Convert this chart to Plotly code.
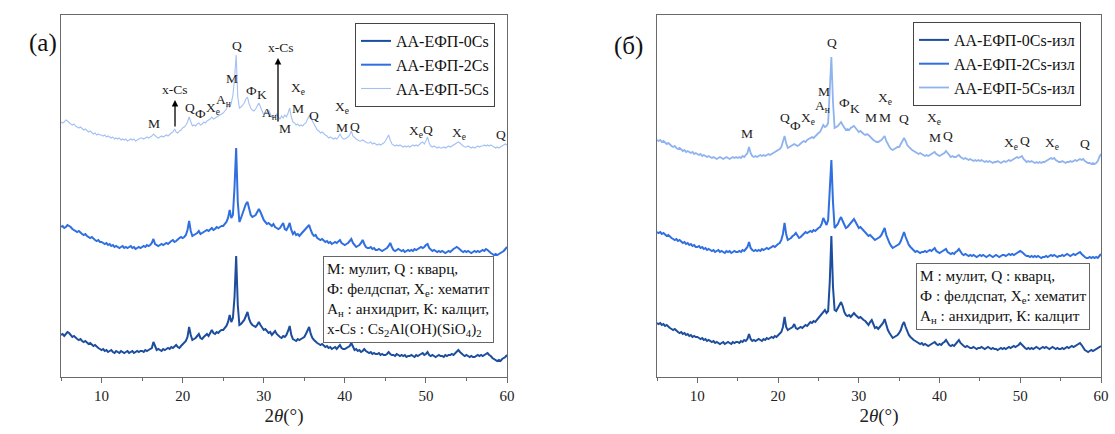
import numpy as np
import plotly.graph_objects as go

# 2θ grid shared by all patterns (degrees)
two_theta = np.round(np.arange(5.0, 60.0001, 0.2), 1)

# ---- panel (a): AA-EFP with Cs, intensity (a.u.) ----
a_0cs = [
    42, 43, 41, 43, 45, 44, 42, 40, 41, 39, 38, 37, 38, 36, 35, 36, 34, 33, 34, 32, 31, 32, 30, 29, 28,
    27, 28, 26, 27, 25, 26, 27, 25, 24, 26, 25, 24, 26, 25, 24, 25, 26, 24, 25, 26, 24, 25, 26, 25, 26,
    26, 25, 27, 26, 27, 28, 29, 35, 30, 27, 28, 27, 26, 28, 27, 28, 29, 28, 30, 29, 31, 32, 30, 29, 31,
    33, 34, 36, 40, 50, 42, 37, 38, 39, 41, 43, 39, 38, 40, 42, 43, 41, 44, 47, 44, 43, 45, 44, 46, 47,
    47, 49, 51, 55, 62, 55, 59, 80, 121, 72, 52, 53, 55, 57, 61, 65, 58, 54, 52, 51, 50, 52, 55, 52, 49,
    47, 48, 46, 44, 45, 42, 44, 46, 43, 41, 40, 39, 41, 40, 42, 46, 51, 42, 38, 37, 36, 38, 37, 38, 39,
    40, 43, 46, 50, 43, 39, 37, 35, 34, 33, 32, 33, 31, 30, 31, 29, 30, 28, 29, 30, 28, 30, 32, 29, 28,
    28, 29, 30, 31, 34, 30, 27, 28, 26, 27, 25, 26, 28, 26, 25, 24, 25, 23, 24, 23, 23, 24, 22, 23, 22,
    22, 23, 25, 23, 22, 22, 21, 23, 22, 21, 22, 21, 22, 20, 21, 21, 22, 21, 20, 22, 21, 22, 23, 24, 22,
    23, 25, 22, 21, 22, 21, 20, 21, 22, 21, 21, 20, 22, 21, 22, 22, 23, 22, 24, 26, 27, 25, 23, 22, 21,
    22, 21, 20, 21, 20, 20, 21, 22, 21, 22, 21, 22, 23, 24, 22, 21, 19, 18, 17, 16, 17, 16, 18, 19, 20,
    22,
]
a_2cs = [
    45, 46, 44, 45, 47, 46, 45, 43, 42, 41, 40, 41, 39, 38, 37, 38, 36, 35, 34, 35, 33, 32, 31, 32, 30,
    30, 29, 28, 29, 27, 28, 26, 27, 25, 26, 25, 24, 25, 26, 24, 25, 24, 25, 26, 24, 25, 23, 24, 25, 24,
    25, 26, 25, 27, 26, 27, 29, 33, 28, 27, 26, 27, 28, 27, 28, 29, 28, 30, 31, 32, 30, 31, 33, 34, 35,
    34, 35, 37, 42, 51, 41, 36, 37, 38, 39, 41, 38, 39, 40, 41, 42, 41, 43, 44, 42, 43, 45, 44, 45, 46,
    46, 48, 50, 54, 62, 54, 57, 85, 124, 70, 50, 54, 58, 63, 68, 70, 62, 57, 55, 56, 57, 60, 63, 60, 55,
    52, 50, 48, 49, 47, 46, 48, 45, 44, 43, 44, 46, 49, 43, 42, 45, 49, 42, 38, 40, 37, 38, 36, 38, 40,
    41, 43, 45, 47, 42, 38, 36, 37, 34, 33, 32, 33, 31, 30, 31, 29, 30, 28, 29, 30, 29, 31, 32, 29, 28,
    27, 28, 29, 31, 33, 29, 27, 25, 26, 27, 29, 32, 28, 25, 24, 24, 25, 23, 24, 22, 22, 23, 22, 21, 22,
    23, 24, 26, 29, 25, 22, 21, 22, 23, 22, 21, 22, 20, 21, 22, 21, 22, 21, 23, 22, 23, 24, 25, 24, 25,
    27, 28, 24, 22, 21, 22, 21, 20, 21, 20, 21, 20, 19, 20, 21, 20, 22, 23, 24, 25, 24, 22, 21, 20, 21,
    20, 21, 20, 19, 20, 21, 20, 21, 20, 21, 22, 21, 23, 22, 20, 19, 18, 17, 18, 17, 18, 19, 20, 21, 23,
    25,
]
a_5cs = [
    45, 44, 45, 47, 46, 44, 43, 42, 43, 41, 40, 39, 40, 38, 37, 38, 36, 35, 36, 34, 33, 34, 32, 33, 32,
    32, 31, 32, 30, 31, 30, 29, 30, 28, 29, 28, 29, 27, 28, 27, 28, 26, 27, 28, 27, 28, 26, 27, 28, 29,
    29, 28, 29, 30, 29, 30, 31, 33, 31, 30, 29, 30, 31, 30, 31, 32, 31, 33, 34, 35, 38, 35, 34, 36, 37,
    39, 40, 42, 45, 50, 45, 41, 42, 41, 43, 44, 42, 43, 45, 44, 46, 47, 48, 50, 48, 49, 50, 51, 52, 53,
    54, 56, 58, 62, 60, 64, 72, 88, 112, 70, 59, 60, 62, 64, 68, 70, 63, 59, 57, 56, 58, 61, 64, 60, 55,
    52, 55, 54, 57, 53, 50, 49, 51, 53, 50, 48, 51, 49, 52, 50, 54, 59, 50, 45, 44, 42, 43, 41, 42, 41,
    43, 44, 48, 51, 52, 46, 43, 40, 37, 36, 34, 35, 33, 32, 31, 29, 30, 29, 28, 29, 28, 30, 33, 30, 28,
    28, 29, 30, 32, 36, 31, 29, 28, 27, 26, 26, 27, 26, 25, 24, 24, 25, 23, 24, 23, 22, 23, 22, 23, 24,
    26, 29, 32, 27, 23, 22, 21, 22, 21, 22, 21, 20, 21, 20, 21, 20, 21, 22, 21, 22, 21, 23, 24, 25, 23,
    26, 30, 24, 21, 20, 21, 20, 19, 20, 19, 19, 20, 19, 20, 21, 20, 21, 22, 23, 24, 25, 24, 22, 21, 20,
    20, 21, 20, 19, 20, 19, 20, 21, 20, 21, 21, 22, 21, 22, 21, 22, 21, 20, 19, 20, 19, 20, 21, 22, 23,
    22,
]

# ---- panel (б): same samples after leaching, intensity (a.u.) ----
b_0cs = [
    54, 53, 54, 52, 53, 51, 52, 50, 49, 48, 47, 48, 46, 45, 44, 45, 43, 44, 42, 43, 41, 42, 40, 41, 40,
    40, 39, 38, 39, 37, 38, 36, 37, 36, 35, 36, 34, 35, 34, 33, 34, 35, 33, 34, 35, 34, 33, 35, 34, 35,
    35, 34, 36, 35, 37, 36, 38, 43, 38, 36, 37, 36, 37, 38, 37, 36, 38, 37, 39, 38, 39, 40, 39, 41, 40,
    42, 43, 45, 50, 60, 50, 47, 48, 49, 50, 53, 49, 48, 49, 50, 49, 51, 52, 51, 53, 55, 54, 56, 55, 57,
    59, 60, 62, 64, 67, 64, 66, 95, 141, 90, 67, 66, 69, 72, 75, 71, 65, 62, 61, 62, 60, 62, 64, 62, 60,
    59, 60, 58, 57, 56, 54, 52, 55, 57, 53, 49, 50, 48, 50, 52, 54, 58, 52, 47, 44, 41, 39, 40, 41, 42,
    44, 47, 52, 55, 50, 45, 42, 40, 38, 37, 36, 35, 34, 33, 34, 32, 33, 32, 31, 32, 33, 34, 35, 33, 32,
    33, 32, 34, 35, 37, 34, 32, 31, 32, 31, 33, 35, 37, 34, 32, 31, 30, 31, 30, 29, 29, 30, 29, 28, 29,
    29, 30, 29, 28, 29, 30, 29, 28, 29, 28, 28, 27, 28, 29, 28, 29, 28, 29, 30, 29, 30, 31, 30, 31, 32,
    34, 32, 30, 29, 28, 29, 28, 29, 28, 29, 30, 29, 28, 29, 30, 29, 30, 29, 28, 29, 30, 29, 28, 29, 28,
    28, 29, 28, 29, 30, 29, 30, 31, 30, 31, 32, 33, 34, 32, 29, 27, 26, 25, 26, 27, 26, 27, 28, 29, 30,
    31,
]
b_2cs = [
    50, 49, 50, 48, 49, 47, 46, 47, 45, 44, 43, 42, 43, 41, 42, 40, 39, 40, 38, 39, 37, 38, 36, 37, 35,
    35, 36, 34, 35, 33, 34, 32, 33, 32, 31, 32, 30, 31, 32, 30, 31, 30, 29, 31, 30, 31, 29, 30, 31, 30,
    30, 31, 30, 32, 31, 33, 35, 40, 34, 32, 31, 32, 31, 32, 31, 33, 32, 33, 34, 33, 34, 35, 36, 35, 37,
    38, 39, 42, 48, 59, 48, 42, 43, 44, 46, 47, 49, 46, 44, 45, 47, 48, 50, 49, 50, 51, 50, 52, 51, 53,
    54, 55, 58, 64, 60, 57, 62, 90, 122, 80, 54, 56, 58, 62, 65, 61, 57, 54, 55, 57, 59, 61, 63, 60, 57,
    54, 55, 53, 52, 50, 48, 46, 47, 45, 43, 42, 43, 44, 45, 47, 50, 54, 47, 42, 39, 36, 34, 35, 36, 37,
    38, 41, 46, 50, 45, 40, 37, 35, 33, 32, 30, 31, 30, 29, 30, 30, 31, 30, 31, 32, 31, 33, 34, 31, 30,
    29, 30, 31, 32, 33, 30, 29, 28, 29, 28, 30, 31, 33, 30, 28, 27, 28, 27, 26, 27, 26, 27, 26, 25, 26,
    27, 26, 27, 26, 25, 26, 27, 26, 25, 26, 27, 26, 25, 26, 27, 27, 26, 27, 28, 27, 28, 27, 28, 29, 30,
    31, 30, 28, 27, 26, 26, 25, 26, 25, 26, 25, 26, 25, 24, 25, 25, 26, 25, 26, 27, 26, 27, 26, 25, 26,
    26, 27, 26, 27, 28, 27, 26, 27, 28, 27, 28, 29, 30, 28, 26, 25, 24, 24, 25, 24, 25, 24, 25, 24, 26,
    28,
]
b_5cs = [
    47, 46, 47, 45, 46, 44, 43, 44, 42, 41, 40, 41, 39, 38, 39, 37, 36, 37, 35, 36, 35, 34, 35, 33, 34,
    33, 32, 33, 31, 32, 31, 30, 31, 30, 29, 30, 29, 28, 29, 30, 29, 28, 29, 30, 29, 28, 29, 30, 29, 30,
    29, 30, 29, 31, 30, 32, 34, 40, 34, 31, 30, 31, 30, 31, 32, 31, 32, 31, 32, 33, 32, 33, 34, 35, 36,
    37, 38, 40, 45, 51, 44, 39, 40, 41, 42, 43, 42, 41, 42, 44, 45, 46, 45, 47, 48, 49, 50, 49, 51, 52,
    54, 55, 58, 62, 60, 61, 64, 95, 130, 85, 59, 60, 61, 63, 65, 62, 59, 57, 58, 57, 59, 60, 61, 59, 57,
    55, 56, 54, 53, 52, 53, 52, 50, 48, 47, 46, 45, 45, 46, 47, 49, 51, 46, 42, 40, 38, 37, 38, 39, 40,
    40, 43, 46, 49, 46, 42, 40, 38, 37, 36, 35, 34, 33, 34, 33, 32, 31, 32, 31, 32, 33, 34, 35, 33, 32,
    31, 32, 33, 34, 36, 34, 31, 30, 31, 30, 30, 31, 32, 30, 29, 28, 29, 28, 27, 28, 27, 26, 27, 26, 27,
    26, 27, 26, 25, 26, 25, 26, 25, 24, 25, 25, 26, 25, 24, 25, 26, 25, 26, 27, 26, 27, 28, 29, 30, 29,
    30, 31, 28, 26, 25, 26, 25, 26, 25, 24, 25, 24, 25, 24, 25, 25, 26, 27, 28, 29, 28, 29, 27, 26, 25,
    25, 26, 25, 24, 25, 25, 26, 25, 26, 27, 26, 27, 28, 27, 28, 26, 25, 24, 24, 23, 24, 23, 24, 26, 30,
    33,
]

for s in (a_0cs, a_2cs, a_5cs, b_0cs, b_2cs, b_5cs):
    assert len(s) == len(two_theta)

names_a = ["АА-ЕФП-0Cs", "АА-ЕФП-2Cs", "АА-ЕФП-5Cs"]
names_b = ["АА-ЕФП-0Cs-изл", "АА-ЕФП-2Cs-изл", "АА-ЕФП-5Cs-изл"]

# phase marks: (2θ, label, height on the stacked scale)
peaks_a = [
    (16.47, "M", 254), (20.9, "Q", 270), (22.26, "Ф", 264), (23.74, "X<sub>е</sub>", 269),
    (25.1, "A<sub>н</sub>", 277), (26.08, "M", 299), (26.7, "Q", 332), (28.43, "Ф", 287),
    (29.78, "K", 283), (30.65, "A<sub>н</sub>", 264), (32.62, "M", 249), (34.22, "X<sub>е</sub>", 289),
    (34.22, "M", 269), (36.2, "Q", 262), (39.65, "X<sub>е</sub>", 270), (39.65, "M", 250),
    (41.25, "Q", 251), (48.77, "X<sub>е</sub>", 246), (50.25, "Q", 248), (54.08, "X<sub>е</sub>", 244),
    (59.25, "Q", 243),
]
peaks_b = [
    (16.1, "M", 244), (20.86, "Q", 260), (22.1, "Ф", 252), (23.7, "X<sub>е</sub>", 259),
    (25.7, "M", 286), (25.45, "A<sub>н</sub>", 271), (26.68, "Q", 335), (28.17, "Ф", 275),
    (29.53, "K", 269), (31.5, "M", 260), (33.25, "M", 260), (33.25, "X<sub>е</sub>", 279),
    (35.6, "Q", 259), (39.3, "X<sub>е</sub>", 259), (39.45, "M", 240), (41.06, "Q", 242),
    (48.8, "X<sub>е</sub>", 234), (50.55, "Q", 237), (53.95, "X<sub>е</sub>", 234), (58.04, "Q", 234),
]
# Cs aluminosilicate reflections marked with arrows: (2θ, head height, arrow length px)
xcs_arrows = [(19.06, 277, 28), (31.76, 319, 65)]

colors = ["#1d4d9d", "#2f6fe0", "#a3c1f2"]
colors_b = ["#1d4d9d", "#2f6fe0", "#8fb3ee"]
widths_a = [2.0, 2.0, 1.1]
widths_b = [2.0, 2.0, 1.8]
offsets_a = [0, 105, 210]
offsets_b = [0, 95, 190]
FONT = "Liberation Serif, Times New Roman, DejaVu Serif, serif"

fig = go.Figure()
for name, ys, col, w, off in zip(names_a, (a_0cs, a_2cs, a_5cs), colors, widths_a, offsets_a):
    fig.add_trace(go.Scatter(x=two_theta, y=np.array(ys) + off, mode="lines", name=name,
                             line=dict(color=col, width=w), xaxis="x", yaxis="y", legend="legend"))
for name, ys, col, w, off in zip(names_b, (b_0cs, b_2cs, b_5cs), colors_b, widths_b, offsets_b):
    fig.add_trace(go.Scatter(x=two_theta, y=np.array(ys) + off, mode="lines", name=name,
                             line=dict(color=col, width=w), xaxis="x2", yaxis="y2", legend="legend2"))

W, H = 1115, 434
frame = "#6a6a6a"


def xax(dom):
    return dict(domain=dom, range=[5, 60], tickmode="array", tickvals=[10, 20, 30, 40, 50, 60],
                ticks="outside", ticklen=5, tickcolor=frame, showline=True, mirror=True,
                linecolor=frame, linewidth=1, showgrid=False, zeroline=False,
                minor=dict(tickmode="array", tickvals=[5, 15, 25, 35, 45, 55], ticks="outside",
                           ticklen=3, tickcolor=frame),
                tickfont=dict(family=FONT, size=15, color="#222"),
                title=dict(text="2<i>θ</i>(°)", font=dict(family=FONT, size=19, color="#222"), standoff=5),
                automargin=False)


def yax(anchor):
    return dict(domain=[57 / H, 419 / H], range=[0, 362], showticklabels=False, ticks="",
                showline=True, mirror=True, linecolor=frame, linewidth=1, showgrid=False,
                zeroline=False, anchor=anchor)


legend_style = dict(font=dict(family=FONT, size=16, color="#111"), bgcolor="white",
                    bordercolor="#444", borderwidth=1, xanchor="left", yanchor="top",
                    tracegroupgap=0, itemwidth=30)

fig.update_layout(
    width=W, height=H, margin=dict(l=0, r=0, t=0, b=0),
    paper_bgcolor="white", plot_bgcolor="white", showlegend=True,
    xaxis=dict(**xax([61 / W, 507 / W]), anchor="y"),
    xaxis2=dict(**xax([657 / W, 1101 / W]), anchor="y2"),
    yaxis=yax("x"), yaxis2=yax("x2"),
    legend=dict(x=355 / W, y=1 - 23 / H, **legend_style),
    legend2=dict(x=913 / W, y=1 - 22 / H, **legend_style),
)

ann = []
lab_font = dict(family=FONT, size=13.5, color="#222")
for xv, txt, yv in peaks_a:
    ann.append(dict(x=xv, y=yv, xref="x", yref="y", text=txt, showarrow=False, font=lab_font))
for xv, txt, yv in peaks_b:
    ann.append(dict(x=xv, y=yv, xref="x2", yref="y2", text=txt, showarrow=False, font=lab_font))
for xv, yv, length in xcs_arrows:
    ann.append(dict(x=xv, y=yv, xref="x", yref="y", text="", showarrow=True, arrowhead=2,
                    arrowsize=1, arrowwidth=1.3, arrowcolor="black", ax=0, ay=length))
    ann.append(dict(x=xv + 0.4 if length > 40 else xv, y=yv + 11, xref="x", yref="y", text="x-Cs",
                    showarrow=False, font=lab_font))

box_font = dict(family=FONT, size=15.3, color="#111")
ann.append(dict(xref="paper", yref="paper", x=323 / W, y=1 - 256 / H, xanchor="left", yanchor="top",
                align="left", showarrow=False, font=box_font, bgcolor="white",
                bordercolor="#666", borderwidth=1, borderpad=3,
                text="M: мулит, Q : кварц,<br>Ф: фелдспат, X<sub>е</sub>: хематит<br>"
                     "А<sub>н</sub> : анхидрит, К: калцит,<br>x-Cs : Cs<sub>2</sub>Al(OH)(SiO<sub>4</sub>)<sub>2</sub>"))
ann.append(dict(xref="paper", yref="paper", x=916 / W, y=1 - 263 / H, xanchor="left", yanchor="top",
                align="left", showarrow=False, font=box_font, bgcolor="white",
                bordercolor="#666", borderwidth=1, borderpad=3,
                text="M : мулит, Q : кварц,<br>Ф : фелдспат, Х<sub>е</sub>: хематит<br>"
                     "А<sub>н</sub> : анхидрит, К: калцит"))

panel_font = dict(family=FONT, size=25, color="#111")
ann.append(dict(xref="paper", yref="paper", x=27 / W, y=1 - 27 / H, text="(a)", showarrow=False,
                font=panel_font))
ann.append(dict(xref="paper", yref="paper", x=628 / W, y=1 - 30 / H, text="(б)", showarrow=False,
                font=panel_font))
fig.update_layout(annotations=ann)

fig.write_html("out.html")
